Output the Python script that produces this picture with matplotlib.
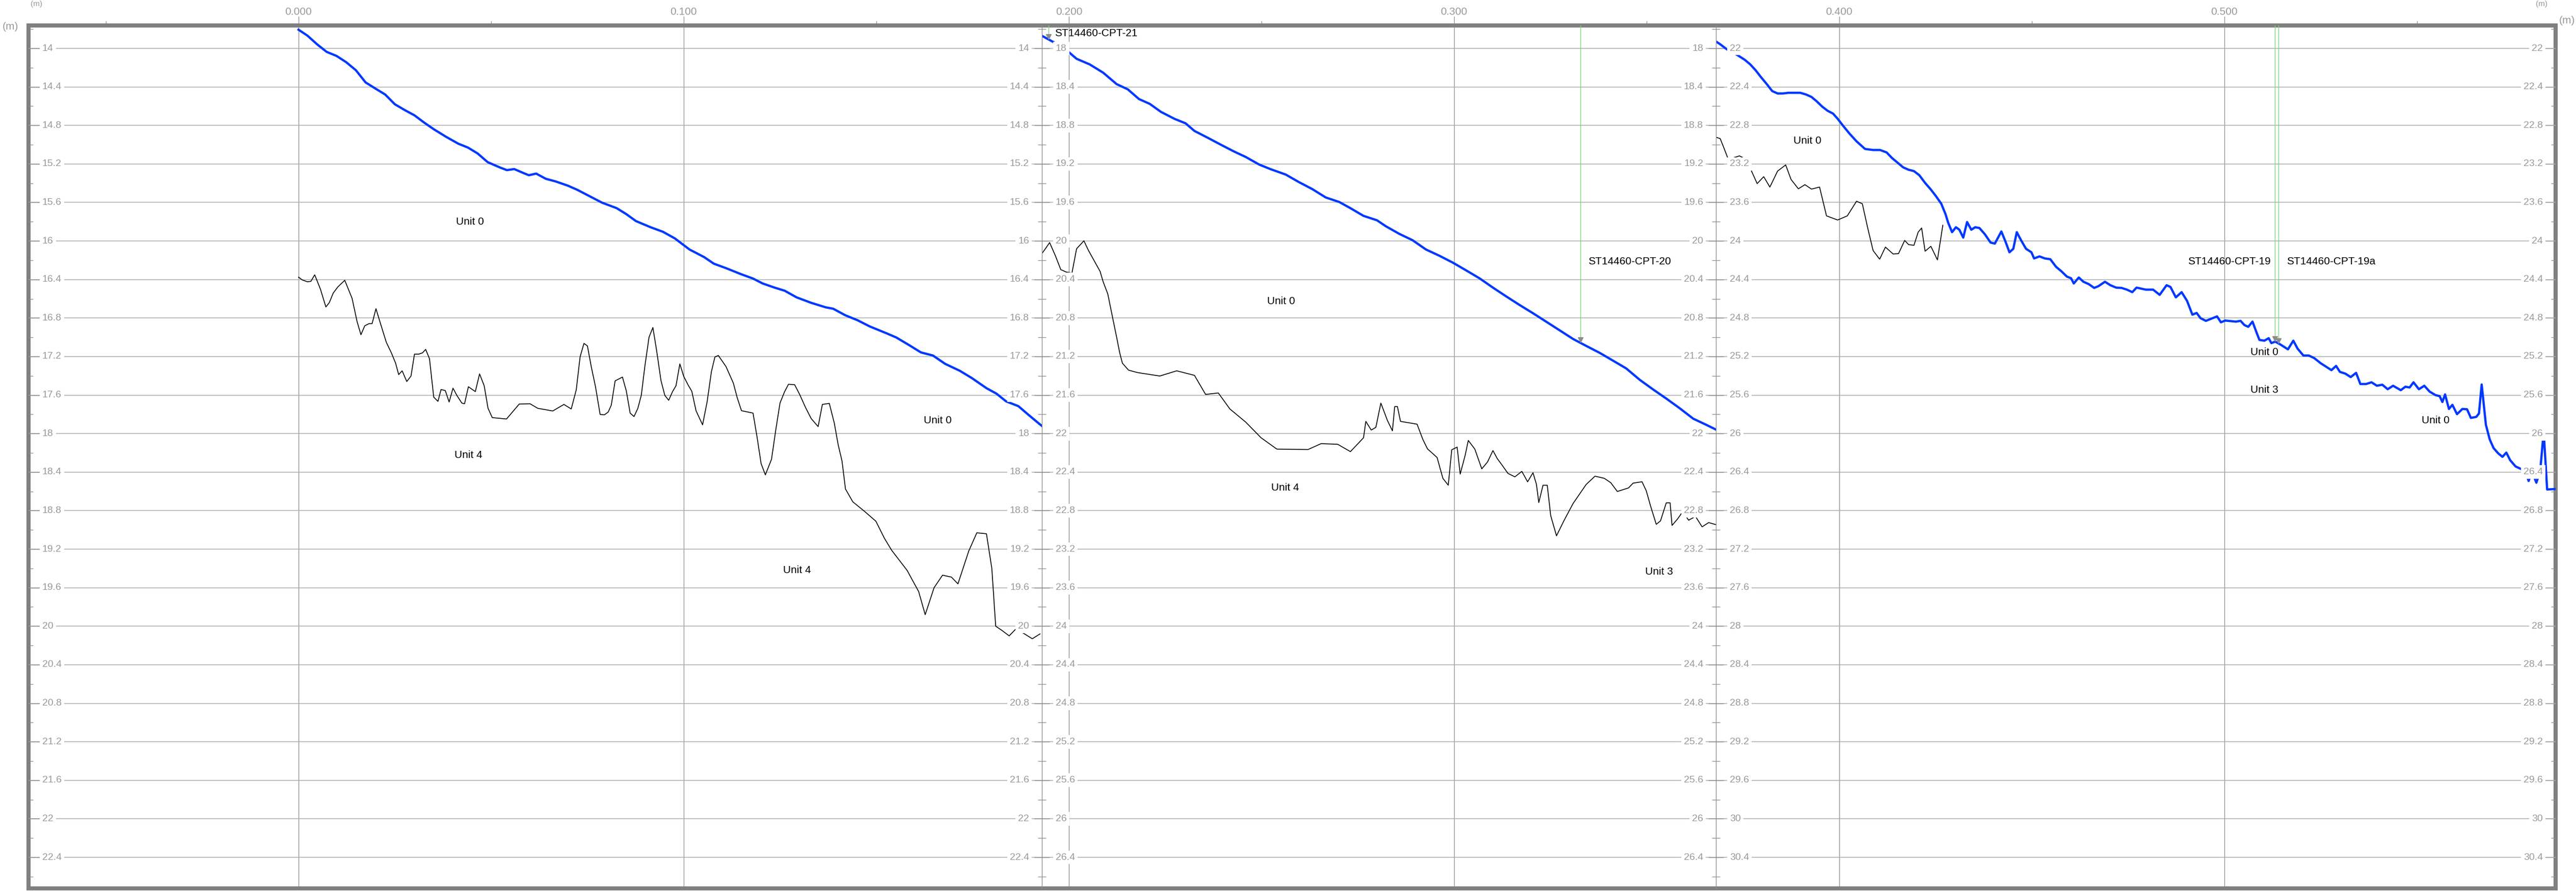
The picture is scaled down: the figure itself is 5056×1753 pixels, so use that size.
import matplotlib.pyplot as plt
import numpy as np
from matplotlib.ticker import FixedLocator, MultipleLocator
from matplotlib.transforms import offset_copy

plt.rcParams['font.family'] = ['Liberation Sans', 'DejaVu Sans']

# ============================================
# DATA - section picks (chainage km, depth m)
# ============================================

# chainage where each CPT panel starts/ends
panel_edges = [-0.0701, 0.1930, 0.3680, 0.5860]
# depth at the top of each panel and first labelled depth
panel_top = [13.7593, 17.7593, 21.7593]
panel_first_label = [14, 18, 22]
panel_span = 8.9632

chainage_ticks = [0.0, 0.1, 0.2, 0.3, 0.4, 0.5]

# panel 1 (CPT-21)
p1_blue_km = [0.0000, 0.0023, 0.0048, 0.0073, 0.0099, 0.0124, 0.0149, 0.0174, 0.0200, 0.0225,
              0.0250, 0.0276, 0.0301, 0.0326, 0.0351, 0.0383, 0.0415, 0.0440, 0.0465, 0.0491,
              0.0522, 0.0541, 0.0560, 0.0585, 0.0598, 0.0617, 0.0642, 0.0668, 0.0699, 0.0724,
              0.0750, 0.0788, 0.0826, 0.0851, 0.0876, 0.0914, 0.0946, 0.0977, 0.1015, 0.1053,
              0.1078, 0.1110, 0.1148, 0.1180, 0.1205, 0.1236, 0.1262, 0.1293, 0.1331, 0.1369,
              0.1388, 0.1420, 0.1451, 0.1483, 0.1527, 0.1552, 0.1584, 0.1616, 0.1647, 0.1679,
              0.1717, 0.1748, 0.1786, 0.1812, 0.1837, 0.1869, 0.1894, 0.1923, 0.1930]
p1_blue_d = [13.806, 13.867, 13.957, 14.036, 14.079, 14.144, 14.227, 14.353, 14.418, 14.479,
             14.580, 14.641, 14.695, 14.770, 14.839, 14.918, 14.990, 15.030, 15.091, 15.181,
             15.235, 15.264, 15.253, 15.296, 15.317, 15.300, 15.354, 15.382, 15.425, 15.469,
             15.523, 15.602, 15.659, 15.721, 15.793, 15.857, 15.904, 15.973, 16.088, 16.167,
             16.235, 16.282, 16.343, 16.390, 16.441, 16.484, 16.516, 16.585, 16.642, 16.689,
             16.703, 16.772, 16.822, 16.887, 16.959, 17.002, 17.078, 17.157, 17.189, 17.276,
             17.348, 17.423, 17.528, 17.585, 17.665, 17.715, 17.801, 17.898, 17.920]

p1_black_km = [0.0000, 0.0010, 0.0023, 0.0032, 0.0042, 0.0057, 0.0071, 0.0080, 0.0090, 0.0102,
               0.0120, 0.0139, 0.0152, 0.0162, 0.0172, 0.0183, 0.0191, 0.0201, 0.0214, 0.0228,
               0.0241, 0.0252, 0.0260, 0.0269, 0.0281, 0.0292, 0.0301, 0.0312, 0.0322, 0.0330,
               0.0340, 0.0351, 0.0362, 0.0370, 0.0381, 0.0391, 0.0401, 0.0411, 0.0424, 0.0431,
               0.0441, 0.0459, 0.0470, 0.0482, 0.0492, 0.0503, 0.0540, 0.0573, 0.0601, 0.0621,
               0.0660, 0.0689, 0.0708, 0.0721, 0.0731, 0.0741, 0.0750, 0.0760, 0.0771, 0.0783,
               0.0794, 0.0804, 0.0812, 0.0822, 0.0841, 0.0851, 0.0861, 0.0871, 0.0881, 0.0890,
               0.0899, 0.0910, 0.0920, 0.0930, 0.0941, 0.0951, 0.0961, 0.0971, 0.0980, 0.0990,
               0.1000, 0.1011, 0.1021, 0.1032, 0.1049, 0.1061, 0.1072, 0.1081, 0.1090, 0.1110,
               0.1129, 0.1139, 0.1150, 0.1180, 0.1190, 0.1201, 0.1212, 0.1228, 0.1239, 0.1250,
               0.1262, 0.1272, 0.1288, 0.1301, 0.1316, 0.1331, 0.1349, 0.1360, 0.1378, 0.1391,
               0.1401, 0.1411, 0.1420, 0.1439, 0.1470, 0.1499, 0.1521, 0.1540, 0.1580, 0.1610,
               0.1627, 0.1650, 0.1672, 0.1695, 0.1712, 0.1740, 0.1761, 0.1786, 0.1800, 0.1810,
               0.1825, 0.1845, 0.1862, 0.1885, 0.1905, 0.1925]
p1_black_d = [16.376, 16.405, 16.423, 16.419, 16.351, 16.502, 16.685, 16.639, 16.541, 16.477,
              16.408, 16.595, 16.837, 16.973, 16.880, 16.858, 16.858, 16.703, 16.873, 17.053,
              17.161, 17.269, 17.387, 17.348, 17.459, 17.402, 17.175, 17.175, 17.161, 17.125,
              17.222, 17.621, 17.665, 17.542, 17.553, 17.672, 17.528, 17.603, 17.683, 17.690,
              17.513, 17.564, 17.380, 17.503, 17.737, 17.834, 17.848, 17.693, 17.690, 17.737,
              17.765, 17.697, 17.744, 17.546, 17.204, 17.063, 17.089, 17.305, 17.513, 17.801,
              17.805, 17.776, 17.704, 17.452, 17.413, 17.557, 17.787, 17.823, 17.737, 17.600,
              17.305, 16.999, 16.898, 17.146, 17.449, 17.603, 17.654, 17.564, 17.503, 17.276,
              17.405, 17.492, 17.560, 17.762, 17.909, 17.665, 17.355, 17.204, 17.189, 17.305,
              17.477, 17.628, 17.762, 17.787, 18.024, 18.312, 18.428, 18.266, 17.963, 17.683,
              17.564, 17.488, 17.492, 17.593, 17.726, 17.844, 17.927, 17.697, 17.686, 17.891,
              18.115, 18.284, 18.575, 18.708, 18.809, 18.910, 19.086, 19.212, 19.420, 19.640,
              19.880, 19.600, 19.470, 19.490, 19.560, 19.220, 19.030, 19.040, 19.400, 20.000,
              20.040, 20.100, 20.030, 20.080, 20.130, 20.080]

# panel 2 (CPT-20)
p2_blue_km = [0.1929, 0.1962, 0.1997, 0.2020, 0.2054, 0.2089, 0.2124, 0.2153, 0.2182, 0.2210,
              0.2239, 0.2274, 0.2303, 0.2326, 0.2361, 0.2395, 0.2430, 0.2459, 0.2494, 0.2523,
              0.2563, 0.2598, 0.2632, 0.2667, 0.2702, 0.2731, 0.2765, 0.2800, 0.2823, 0.2858,
              0.2892, 0.2927, 0.2962, 0.2997, 0.3031, 0.3066, 0.3101, 0.3135, 0.3170, 0.3205,
              0.3239, 0.3274, 0.3309, 0.3343, 0.3378, 0.3413, 0.3447, 0.3482, 0.3517, 0.3551,
              0.3586, 0.3621, 0.3655, 0.3681]
p2_blue_d = [17.867, 17.939, 18.029, 18.108, 18.166, 18.252, 18.371, 18.425, 18.526, 18.576,
             18.659, 18.731, 18.778, 18.857, 18.929, 19.001, 19.073, 19.127, 19.206, 19.253,
             19.310, 19.390, 19.461, 19.548, 19.595, 19.659, 19.739, 19.785, 19.847, 19.926,
             19.991, 20.088, 20.153, 20.225, 20.304, 20.387, 20.484, 20.574, 20.664, 20.750,
             20.837, 20.927, 21.017, 21.089, 21.161, 21.243, 21.323, 21.441, 21.542, 21.636,
             21.737, 21.845, 21.909, 21.960]

p2_black_km = [0.1929, 0.1939, 0.1950, 0.1965, 0.1979, 0.1993, 0.2008, 0.2020, 0.2039, 0.2051,
               0.2066, 0.2081, 0.2089, 0.2101, 0.2112, 0.2124, 0.2132, 0.2139, 0.2155, 0.2178,
               0.2236, 0.2280, 0.2326, 0.2355, 0.2388, 0.2418, 0.2459, 0.2499, 0.2540, 0.2621,
               0.2655, 0.2698, 0.2731, 0.2765, 0.2771, 0.2785, 0.2797, 0.2810, 0.2827, 0.2840,
               0.2846, 0.2853, 0.2861, 0.2904, 0.2919, 0.2931, 0.2956, 0.2971, 0.2985, 0.2994,
               0.3008, 0.3016, 0.3029, 0.3037, 0.3054, 0.3072, 0.3087, 0.3101, 0.3112, 0.3124,
               0.3140, 0.3158, 0.3176, 0.3191, 0.3205, 0.3214, 0.3220, 0.3231, 0.3242, 0.3251,
               0.3266, 0.3286, 0.3309, 0.3343, 0.3366, 0.3390, 0.3407, 0.3424, 0.3453, 0.3465,
               0.3488, 0.3499, 0.3511, 0.3525, 0.3536, 0.3551, 0.3561, 0.3566, 0.3580, 0.3594,
               0.3609, 0.3627, 0.3644, 0.3661, 0.3681]
p2_black_d = [20.135, 20.081, 20.016, 20.153, 20.297, 20.322, 20.333, 20.081, 19.998, 20.099,
              20.207, 20.315, 20.423, 20.549, 20.765, 20.999, 21.161, 21.269, 21.341, 21.366,
              21.402, 21.348, 21.395, 21.593, 21.578, 21.744, 21.880, 22.043, 22.161, 22.165,
              22.104, 22.111, 22.187, 22.043, 21.873, 21.963, 21.935, 21.683, 21.863, 21.971,
              21.719, 21.719, 21.873, 21.902, 22.060, 22.158, 22.248, 22.464, 22.536, 22.168,
              22.140, 22.420, 22.223, 22.071, 22.161, 22.366, 22.294, 22.176, 22.258, 22.323,
              22.413, 22.449, 22.392, 22.500, 22.406, 22.528, 22.716, 22.536, 22.536, 22.852,
              23.061, 22.899, 22.726, 22.528, 22.442, 22.464, 22.510, 22.601, 22.564, 22.514,
              22.500, 22.593, 22.762, 22.942, 22.906, 22.719, 22.719, 22.953, 22.888, 22.809,
              22.899, 22.860, 22.968, 22.924, 22.946]

# panel 3 (CPT-19 / CPT-19a)
p3_blue_km = [0.3680, 0.3691, 0.3705, 0.3719, 0.3734, 0.3755, 0.3769, 0.3783, 0.3797, 0.3812,
              0.3826, 0.3840, 0.3854, 0.3868, 0.3899, 0.3914, 0.3928, 0.3942, 0.3956, 0.3970,
              0.3984, 0.3996, 0.4010, 0.4027, 0.4045, 0.4067, 0.4088, 0.4106, 0.4123, 0.4137,
              0.4152, 0.4166, 0.4180, 0.4194, 0.4208, 0.4223, 0.4237, 0.4251, 0.4265, 0.4276,
              0.4283, 0.4293, 0.4303, 0.4312, 0.4322, 0.4332, 0.4343, 0.4353, 0.4364, 0.4378,
              0.4393, 0.4404, 0.4421, 0.4432, 0.4442, 0.4452, 0.4461, 0.4472, 0.4485, 0.4499,
              0.4506, 0.4520, 0.4534, 0.4548, 0.4563, 0.4577, 0.4591, 0.4602, 0.4609, 0.4622,
              0.4634, 0.4648, 0.4662, 0.4673, 0.4690, 0.4704, 0.4719, 0.4733, 0.4747, 0.4761,
              0.4772, 0.4796, 0.4815, 0.4832, 0.4850, 0.4860, 0.4874, 0.4889, 0.4903, 0.4917,
              0.4928, 0.4938, 0.4952, 0.4981, 0.4991, 0.5002, 0.5030, 0.5042, 0.5052, 0.5062,
              0.5073, 0.5084, 0.5091, 0.5104, 0.5115, 0.5122, 0.5132, 0.5144, 0.5158, 0.5165,
              0.5179, 0.5190, 0.5205, 0.5219, 0.5233, 0.5250, 0.5264, 0.5278, 0.5290, 0.5300,
              0.5314, 0.5328, 0.5342, 0.5353, 0.5368, 0.5382, 0.5396, 0.5410, 0.5424, 0.5438,
              0.5458, 0.5470, 0.5481, 0.5491, 0.5505, 0.5519, 0.5533, 0.5548, 0.5559, 0.5566,
              0.5573, 0.5583, 0.5592, 0.5604, 0.5618, 0.5630, 0.5640, 0.5654, 0.5661, 0.5668,
              0.5679, 0.5689, 0.5699, 0.5711, 0.5722, 0.5732, 0.5742, 0.5756, 0.5770, 0.5781,
              0.5790, 0.5798, 0.5810, 0.5820, 0.5829, 0.5838, 0.5860]
p3_blue_d = [21.928, 21.957, 22.000, 22.036, 22.065, 22.119, 22.166, 22.227, 22.299, 22.371,
             22.443, 22.468, 22.468, 22.461, 22.461, 22.479, 22.504, 22.551, 22.605, 22.648,
             22.677, 22.731, 22.803, 22.886, 22.965, 23.044, 23.055, 23.055, 23.080, 23.138,
             23.188, 23.235, 23.260, 23.274, 23.317, 23.397, 23.461, 23.533, 23.613, 23.721,
             23.811, 23.908, 23.857, 23.883, 23.965, 23.803, 23.883, 23.857, 23.865, 23.929,
             24.016, 24.027, 23.901, 24.009, 24.117, 24.081, 23.908, 23.991, 24.081, 24.117,
             24.181, 24.160, 24.181, 24.189, 24.268, 24.315, 24.369, 24.387, 24.441, 24.379,
             24.423, 24.448, 24.487, 24.469, 24.423, 24.459, 24.484, 24.487, 24.505, 24.531,
             24.484, 24.505, 24.505, 24.559, 24.459, 24.477, 24.585, 24.531, 24.621, 24.765,
             24.747, 24.801, 24.829, 24.783, 24.844, 24.826, 24.837, 24.829, 24.873, 24.891,
             24.837, 24.955, 25.027, 25.035, 25.009, 25.060, 25.045, 25.071, 25.107, 25.125,
             25.035, 25.117, 25.189, 25.189, 25.215, 25.269, 25.305, 25.341, 25.297, 25.359,
             25.377, 25.413, 25.369, 25.485, 25.485, 25.467, 25.503, 25.492, 25.539, 25.503,
             25.549, 25.513, 25.521, 25.467, 25.539, 25.503, 25.564, 25.600, 25.611, 25.672,
             25.593, 25.744, 25.701, 25.798, 25.744, 25.747, 25.837, 25.826, 25.791, 25.490,
             25.909, 26.061, 26.151, 26.205, 26.241, 26.197, 26.276, 26.341, 26.367, 26.385,
             26.492, 26.385, 26.510, 26.385, 25.980, 26.580, 26.575]

p3_black_km = [0.3680, 0.3691, 0.3701, 0.3712, 0.3724, 0.3741, 0.3758, 0.3772, 0.3787, 0.3804,
               0.3820, 0.3840, 0.3861, 0.3875, 0.3894, 0.3911, 0.3928, 0.3949, 0.3967, 0.3996,
               0.4021, 0.4045, 0.4060, 0.4074, 0.4088, 0.4105, 0.4120, 0.4140, 0.4154, 0.4170,
               0.4180, 0.4194, 0.4205, 0.4214, 0.4223, 0.4238, 0.4255, 0.4269]
p3_black_d = [22.922, 22.937, 23.037, 23.152, 23.138, 23.116, 23.152, 23.271, 23.404, 23.332,
              23.440, 23.274, 23.210, 23.361, 23.458, 23.415, 23.461, 23.440, 23.739, 23.782,
              23.739, 23.587, 23.613, 23.865, 24.099, 24.189, 24.063, 24.135, 24.131, 23.994,
              24.037, 24.045, 23.908, 23.865, 24.106, 24.055, 24.196, 23.836]

# CPT locations and their labels
cpt_names = ['ST14460-CPT-21', 'ST14460-CPT-20', 'ST14460-CPT-19', 'ST14460-CPT-19a']
cpt_km = [0.1947, 0.3328, 0.5131, 0.5141]
cpt_panel = [1, 1, 2, 2]
cpt_label_km = [0.1963, 0.3348, 0.5120, 0.5161]
cpt_label_d = [17.844, 20.214, 24.214, 24.214]
cpt_label_ha = ['left', 'left', 'right', 'left']

# unit annotations
unit_text = ['Unit 0', 'Unit 4', 'Unit 0', 'Unit 4',
             'Unit 0', 'Unit 4', 'Unit 3',
             'Unit 0', 'Unit 0', 'Unit 3', 'Unit 0']
unit_km = [0.0445, 0.0441, 0.1659, 0.1294,
           0.2551, 0.2561, 0.3533,
           0.3918, 0.5104, 0.5104, 0.5548]
unit_d = [15.800, 18.222, 17.863, 19.418,
          20.628, 22.564, 23.435,
          22.958, 25.153, 25.549, 25.863]
unit_panel = [0, 0, 0, 0, 1, 1, 1, 2, 2, 2, 2]

blue_km = [p1_blue_km, p2_blue_km, p3_blue_km]
blue_d = [p1_blue_d, p2_blue_d, p3_blue_d]
black_km = [p1_black_km, p2_black_km, p3_black_km]
black_d = [p1_black_d, p2_black_d, p3_black_d]

# ============================================
# FIGURE
# ============================================
W, H = 5056, 1753
PT = 0.72  # points per pixel at dpi 100
fig = plt.figure(figsize=(W / 100, H / 100), dpi=100)

frame_l, frame_r = 56, 5016
frame_t, frame_b = 49.5, 1744
y0 = 1 - frame_b / H
hh = (frame_b - frame_t) / H

grey = '#999999'
frame_grey = '#808080'
axis_grey = '#8c8c8c'


def km_to_px(c):
    return frame_l + (c - panel_edges[0]) / (panel_edges[-1] - panel_edges[0]) * (frame_r - frame_l)


# background axes: frame, vertical grid, chainage axis
ax_top = fig.add_axes([frame_l / W, y0, (frame_r - frame_l) / W, hh])
ax_top.set_xlim(panel_edges[0], panel_edges[-1])
ax_top.set_ylim(0, 1)
ax_top.set_yticks([])
for s in ax_top.spines.values():
    s.set_color(frame_grey)
    s.set_linewidth(8 * PT)
ax_top.xaxis.tick_top()
ax_top.set_xticks(chainage_ticks)
ax_top.set_xticklabels([f'{v:.3f}' for v in chainage_ticks])
ax_top.xaxis.set_minor_locator(MultipleLocator(0.05))
ax_top.tick_params(axis='x', which='major', direction='out', length=18 * PT, width=1.3 * PT,
                   color=axis_grey, labelcolor=grey, labelsize=15, pad=-1)
ax_top.tick_params(axis='x', which='minor', direction='out', length=9 * PT, width=1.3 * PT,
                   color=axis_grey)
ax_top.grid(axis='x', which='major', color=axis_grey, linewidth=1.3 * PT)

label_box = dict(boxstyle='square,pad=0.25', fc='white', ec='none')

for i in range(3):
    x_a = km_to_px(panel_edges[i])
    x_b = km_to_px(panel_edges[i + 1])
    ax = fig.add_axes([x_a / W, y0, (x_b - x_a) / W, hh])
    ax.set_facecolor('none')
    ax.set_xlim(panel_edges[i], panel_edges[i + 1])
    ax.set_ylim(panel_top[i] + panel_span, panel_top[i])
    ax.set_xticks([])
    for side in ['top', 'bottom', 'right']:
        ax.spines[side].set_visible(False)
    if i == 0:
        ax.spines['left'].set_visible(False)
    else:
        ax.spines['left'].set_color(axis_grey)
        ax.spines['left'].set_linewidth(1.3 * PT)

    first = panel_first_label[i]
    major = np.arange(first, first + 8.41, 0.4)
    minor = np.arange(first - 0.2, first + 8.61, 0.4)
    ax.set_yticks(major)
    ax.yaxis.set_minor_locator(FixedLocator(minor))
    if i == 0:
        ax.tick_params(axis='y', which='major', direction='in', length=22 * PT)
        ax.tick_params(axis='y', which='minor', direction='in', length=9 * PT)
    else:
        ax.tick_params(axis='y', which='major', direction='inout', length=30 * PT)
        ax.tick_params(axis='y', which='minor', direction='inout', length=16 * PT)
    ax.tick_params(axis='y', which='both', labelleft=False, color=axis_grey, width=1.3 * PT)
    ax.grid(axis='y', which='major', color='#ababab', linewidth=1.5 * PT)

    if i == 2:
        sec = ax.secondary_yaxis('right')
        sec.set_yticks(major)
        sec.yaxis.set_minor_locator(FixedLocator(minor))
        sec.tick_params(axis='y', which='major', direction='in', length=22 * PT)
        sec.tick_params(axis='y', which='minor', direction='in', length=9 * PT)
        sec.tick_params(axis='y', which='both', labelright=False, color=axis_grey, width=1.3 * PT)
        sec.spines['right'].set_color(frame_grey)

    # data
    ax.plot(black_km[i], black_d[i], color='black', linewidth=1.2, zorder=2)
    ax.plot(blue_km[i], blue_d[i], color='#0038ff', linewidth=3.2, zorder=2.5)

    # CPT positions
    for name, c, p, lc, ld, ha in zip(cpt_names, cpt_km, cpt_panel, cpt_label_km, cpt_label_d, cpt_label_ha):
        if p != i:
            continue
        d_hit = np.interp(c, blue_km[i], blue_d[i])
        ax.plot([c, c], [panel_top[i], d_hit - 0.05], color='#77d877', linewidth=1.0, zorder=2.6)
        ax.plot([c], [d_hit - 0.03], marker='v', markersize=7, color='#8c8c8c', zorder=2.7)
        ax.text(lc, ld, name, ha=ha, va='center', fontsize=15, color='black')

    # unit names
    for t, c, d, p in zip(unit_text, unit_km, unit_d, unit_panel):
        if p == i:
            ax.text(c, d, t, ha='center', va='center', fontsize=15, color='black')

    # depth labels on both sides of the panel
    left_tr = offset_copy(ax.get_yaxis_transform(), fig=fig, x=27 * PT, units='points')
    right_tr = offset_copy(ax.get_yaxis_transform(), fig=fig, x=-25 * PT, units='points')
    for v in major:
        lab = f'{v:g}'
        ax.text(0, v, lab, transform=left_tr, ha='left', va='center', fontsize=14,
                color=grey, bbox=label_box, zorder=5)
        ax.text(1, v, lab, transform=right_tr, ha='right', va='center', fontsize=14,
                color=grey, bbox=label_box, zorder=5)

# unit captions outside the frame
fig.text(5 / W, 1 - 53 / H, '(m)', ha='left', va='center', fontsize=15, color=grey)
fig.text(1 - 2 / W, 1 - 40 / H, '(m)', ha='right', va='center', fontsize=15, color=grey)
fig.text(60 / W, 1 - 1 / H, '(m)', ha='left', va='top', fontsize=11, color=grey)
fig.text(4977 / W, 1 - 1 / H, '(m)', ha='left', va='top', fontsize=11, color=grey)

plt.savefig('out.png', dpi=100)
print("Section saved!")
